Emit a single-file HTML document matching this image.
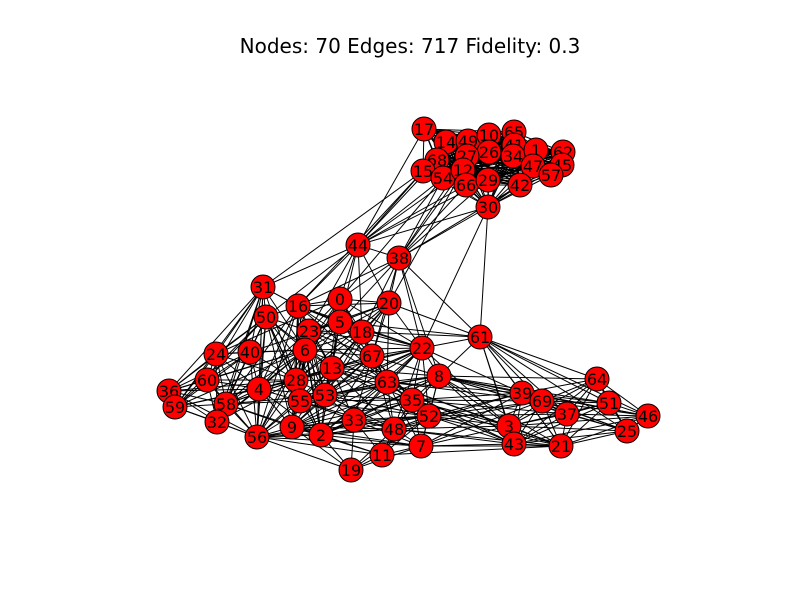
<!DOCTYPE html>
<html><head><meta charset="utf-8"><style>
body{margin:0;background:#fff}
svg{display:block;font-family:"DejaVu Sans","Liberation Sans",sans-serif}
</style></head><body>
<svg id="chart" width="800" height="600" viewBox="0 0 800 600">
<rect width="800" height="600" fill="#fff"/>
<text x="410" y="53" text-anchor="middle" font-size="20">Nodes: 70 Edges: 717 Fidelity: 0.3</text>
<g id="edges"></g>
<g id="nodes"></g>
</svg>
<script>
const nodeIds=[17,14,49,10,65,41,26,27,34,1,62,45,47,57,68,15,54,12,66,29,42,30,44,38,31,16,0,20,50,5,18,23,61,24,40,6,22,67,13,8,64,36,60,4,28,63,39,59,58,55,53,35,69,51,46,37,32,52,33,3,25,56,9,2,48,43,21,7,11,19];
const nodeX=[424,446,468,489,514,514,489,467,513,536,563,562,533,551,437,423,443,463,466,488,520,488,358,399,263,298,340,389,266,340,362,309,480,216,250,305,422,372,332,439,597,169,207,259,296,387,522,175,226,300,325,412,542,609,648,567,217,429,354,509,627,257,292,321,394,514,561,421,382,351];
const nodeY=[129,142,141,135,132,145,152,156,156,150,152,165,166,175,160,171,178,170,185,180,185,207,245,258,287,306,299,303,317,322,332,331,337,354,352,350,348,356,368,376,379,391,380,389,380,382,393,407,404,401,395,400,401,403,416,414,422,416,420,426,431,437,427,435,429,444,446,446,455,470];
const groups=[
[17,14,49,10,65,41,26,27,34,1,62,45,47,57,68,15,54,12,66,29,42,30],
[24,40,36,60,59,58,32,4,56,50,31,28,6],
[4,28,6,9,55,53,13,23,16,50,2,56,58],
[0,5,16,23,18,20,6,13,67,28,53,63,22],
[63,22,33,2,9,48,35,55,53,67,13,52,8],
[61,8,39,69,37,51,64,46,25,3,43,21],
[52,7,35,3,43,21,39,63,48,8,69],
[33,48,7,11,19,2,9,56,52]
];
const extraEdges=[[44,17],[44,15],[44,54],[44,12],[44,30],[44,68],[44,66],[44,29],[38,30],[38,29],[38,42],[38,66],[38,54],[38,12],[38,27],[30,61],[30,22],[44,38],[44,31],[44,0],[44,5],[44,16],[44,50],[44,20],[44,23],[44,18],[38,0],[38,20],[38,5],[38,18],[38,61],[38,22],[38,16],[38,67],[38,8],[15,31],[15,16],[54,0],[12,20],[31,16],[31,24],[31,40],[61,22],[61,8],[61,20],[61,18],[61,64],[61,3],[61,43],[61,39],[61,5],[20,22],[22,39],[22,3],[8,64],[63,39],[35,3],[63,69],[35,43],[36,56],[24,0],[59,4],[60,28],[40,5],[2,19],[9,19],[56,11],[7,43],[11,21],[48,43],[52,37],[8,51],[35,37]];
const eg=document.getElementById('edges'),ng=document.getElementById('nodes');
const NS='http://www.w3.org/2000/svg';
function pos(id){const i=nodeIds.indexOf(id);return [nodeX[i],nodeY[i]];}
const seen=new Set();
function addEdge(a,b){const k=a<b?a+'-'+b:b+'-'+a;if(seen.has(k))return;seen.add(k);
const [x1,y1]=pos(a),[x2,y2]=pos(b);const l=document.createElementNS(NS,'line');
l.setAttribute('x1',x1);l.setAttribute('y1',y1);l.setAttribute('x2',x2);l.setAttribute('y2',y2);
l.setAttribute('stroke','#000');l.setAttribute('stroke-width','1');


eg.appendChild(l);}
groups.forEach(g=>{for(let i=0;i<g.length;i++)for(let j=i+1;j<g.length;j++)addEdge(g[i],g[j]);});
extraEdges.forEach(e=>addEdge(e[0],e[1]));
nodeIds.forEach((id,i)=>{const g=document.createElementNS(NS,'g');


const c=document.createElementNS(NS,'circle');c.setAttribute('cx',nodeX[i]);c.setAttribute('cy',nodeY[i]);c.setAttribute('r',12);
c.setAttribute('fill','#ff0000');c.setAttribute('stroke','#000');c.setAttribute('stroke-width','1');
const t=document.createElementNS(NS,'text');t.setAttribute('x',nodeX[i]);t.setAttribute('y',nodeY[i]+6);
t.setAttribute('text-anchor','middle');t.setAttribute('font-size','16');t.textContent=id;
g.appendChild(c);g.appendChild(t);ng.appendChild(g);});
</script>
</body></html>
